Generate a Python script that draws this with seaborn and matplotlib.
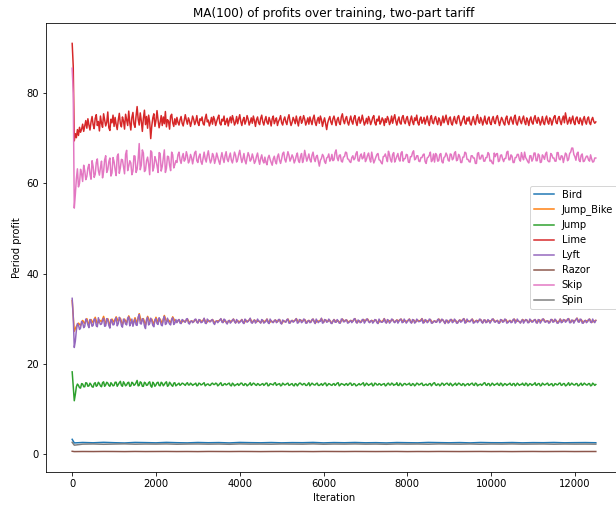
import numpy as np
import matplotlib
matplotlib.use("Agg")
import matplotlib.pyplot as plt
import seaborn as sns

# MA(100) profits.
STEP = 50
FINE = 25
FLAT_ITERS = [0, 50] + list(range(250, 12501, 250))

NAMES = ["Bird", "Jump_Bike", "Jump", "Lime", "Lyft", "Razor", "Skip", "Spin"]

# Lime and Skip: one reading every 25 iterations
lime = [
    91.0, 86.0, 69.4, 71.0, 70.1, 71.9, 70.6, 72.4, 71.3, 72.0,
    73.1, 71.5, 72.7, 73.9, 72.2, 74.3, 72.9, 71.8, 73.6, 74.8,
    73.0, 72.1, 74.4, 75.2, 72.8, 73.7, 71.6, 74.9, 73.3, 72.4,
    75.4, 74.0, 72.7, 73.5, 75.8, 72.3, 71.7, 74.2, 73.4, 75.1,
    72.6, 74.6, 73.0, 71.9, 74.0, 75.5, 73.2, 72.5, 74.7, 73.8,
    72.0, 75.3, 74.1, 72.8, 76.0, 73.4, 71.8, 74.6, 75.7, 73.1,
    72.4, 74.9, 77.0, 74.2, 72.9, 75.6, 73.8, 71.5, 74.4, 76.2,
    73.0, 74.8, 72.2, 75.1, 73.6, 69.9, 72.7, 74.5, 75.4, 72.6,
    73.9, 76.1, 74.0, 72.3, 73.5, 75.0, 72.8, 74.7, 73.2, 75.9,
    72.5, 74.1, 73.7, 72.0, 74.9, 75.3, 73.4, 72.6, 74.3, 73.0,
    74.6, 73.5, 72.9, 74.1, 74.8, 73.3, 72.7, 73.9, 75.2, 74.0,
    73.1, 74.5, 73.8, 72.6, 73.6, 74.9, 74.2, 73.0, 73.7, 75.0,
    73.4, 72.8, 74.3, 73.9, 74.7, 73.2, 72.9, 74.4, 75.3, 73.6,
    74.0, 72.7, 73.5, 74.6, 73.1, 74.8, 74.1, 72.8, 73.7, 74.5,
    75.1, 73.3, 72.9, 74.2, 73.8, 74.9, 73.0, 73.6, 74.4, 72.7,
    73.9, 74.7, 73.4, 75.0, 74.1, 72.9, 73.5, 74.8, 73.2, 74.3,
    75.2, 73.7, 72.8, 74.0, 74.6, 73.1, 73.8, 75.0, 74.2, 72.9,
    73.6, 74.5, 73.3, 74.9, 73.9, 72.6, 74.1, 74.7, 73.4, 73.0,
    74.4, 75.1, 73.6, 72.9, 74.0, 74.8, 73.5, 73.1, 74.6, 73.8,
    72.7, 74.3, 74.9, 73.2, 73.9, 74.5, 72.8, 73.7, 74.2, 75.0,
    73.4, 72.9, 74.1, 74.7, 73.6, 73.0, 74.4, 75.2, 73.8, 72.8,
    73.5, 74.6, 74.0, 73.2, 74.9, 73.7, 72.7, 74.3, 74.8, 73.3,
    73.9, 75.0, 74.2, 72.9, 73.6, 74.5, 73.1, 74.7, 73.8, 73.0,
    74.4, 75.1, 73.5, 72.8, 74.0, 74.6, 73.3, 74.9, 74.1, 72.6,
    73.7, 74.5, 73.2, 71.9, 73.4, 74.2, 74.8, 73.6, 73.0, 74.3,
    74.9, 73.8, 72.8, 74.1, 74.6, 73.4, 73.0, 74.7, 75.4, 73.9,
    73.2, 74.3, 74.8, 73.5, 72.9, 74.0, 74.9, 73.7, 73.1, 74.5,
    75.0, 73.6, 72.8, 74.2, 74.7, 73.3, 73.9, 75.1, 74.0, 72.9,
    73.5, 74.4, 73.2, 74.8, 74.1, 73.0, 73.7, 74.6, 75.0, 73.4,
    72.9, 74.2, 73.8, 74.9, 73.1, 73.6, 74.5, 74.0, 72.8, 74.3,
    73.5, 74.8, 74.2, 73.0, 73.6, 74.9, 73.3, 74.4, 75.2, 73.8,
    72.9, 74.0, 74.7, 73.4, 73.1, 74.6, 75.0, 73.7, 73.2, 74.3,
    74.8, 73.5, 72.8, 74.1, 74.9, 73.6, 73.0, 74.5, 73.9, 75.1,
    73.4, 72.9, 74.2, 74.7, 73.3, 73.8, 74.6, 73.1, 74.0, 74.9,
    73.6, 72.8, 74.4, 75.0, 73.5, 73.2, 74.3, 74.8, 73.7, 73.0,
    74.5, 74.0, 72.8, 73.6, 74.9, 73.4, 74.2, 75.1, 73.8, 73.0,
    74.4, 74.7, 73.3, 72.9, 74.1, 74.8, 73.6, 73.2, 74.6, 75.0,
    73.9, 72.8, 73.5, 74.3, 74.9, 73.4, 73.1, 74.5, 73.8, 74.7,
    73.2, 72.9, 74.0, 74.8, 73.6, 73.0, 74.4, 75.2, 73.7, 73.3,
    74.6, 74.0, 72.9, 73.8, 74.9, 73.5, 73.1, 74.3, 74.7, 73.4,
    73.0, 74.2, 74.8, 73.6, 73.2, 74.5, 75.0, 73.9, 72.8, 73.7,
    74.6, 74.1, 73.3, 72.9, 74.4, 74.9, 73.5, 73.0, 74.2, 74.7,
    73.8, 73.1, 74.6, 75.1, 73.4, 72.9, 74.0, 74.8, 73.7, 73.2,
    74.3, 74.9, 73.6, 73.0, 74.5, 73.9, 72.8, 74.1, 74.7, 73.5,
    73.1, 74.4, 75.0, 73.8, 73.3, 74.6, 74.0, 72.9, 73.7, 74.8,
    73.4, 73.0, 74.3, 74.9, 73.6, 73.1, 74.5, 74.1, 72.9, 73.8,
    74.7, 75.0, 73.5, 73.2, 74.4, 74.8, 73.7, 73.0, 74.2, 74.9,
    73.4, 75.6, 74.3, 73.1, 73.8, 74.6, 73.2, 74.1, 74.9, 73.5,
    73.0, 74.4, 74.7, 73.6, 73.2, 74.5, 73.9, 72.9, 74.2, 74.8,
    73.6, 73.1, 74.3, 74.7, 73.4, 73.0, 74.1, 74.6, 73.7, 73.3,
    73.6,
]

skip = [
    85.5, 80.0, 54.5, 57.5, 61.0, 63.2, 59.2, 60.0, 63.1, 62.1,
    60.4, 64.0, 62.8, 60.8, 61.5, 63.4, 64.2, 62.0, 60.9, 65.0,
    63.7, 61.3, 62.0, 64.6, 65.4, 62.8, 61.8, 63.5, 64.9, 61.2,
    62.6, 65.2, 66.1, 62.4, 63.0, 64.8, 65.6, 61.6, 62.3, 65.7,
    64.8, 63.0, 61.7, 66.0, 66.5, 62.2, 63.4, 65.3, 65.2, 63.6,
    62.1, 66.4, 67.3, 62.8, 63.8, 65.0, 64.5, 61.9, 62.7, 66.1,
    66.0, 62.4, 63.1, 65.4, 68.8, 63.0, 64.0, 67.4, 66.7, 62.6,
    62.9, 65.0, 65.8, 64.2, 61.9, 67.2, 66.9, 62.7, 63.5, 65.9,
    65.1, 63.9, 62.4, 66.8, 66.6, 62.7, 63.7, 65.5, 67.4, 62.4,
    63.3, 66.0, 65.9, 64.0, 62.8, 66.9, 66.3, 63.4, 64.1, 65.0,
    64.6, 66.3, 66.9, 65.2, 64.4, 65.8, 66.6, 64.9, 65.3, 67.0,
    66.1, 64.5, 65.0, 66.4, 65.7, 64.3, 65.5, 66.8, 67.1, 65.0,
    64.6, 65.9, 66.5, 64.8, 64.2, 65.6, 66.9, 65.4, 64.7, 66.2,
    67.2, 65.6, 64.5, 65.1, 66.6, 66.0, 64.4, 65.3, 66.7, 65.8,
    64.9, 64.2, 65.7, 66.8, 65.5, 64.6, 66.1, 67.0, 65.3, 64.8,
    65.9, 66.7, 65.1, 64.5, 65.6, 66.9, 66.2, 64.7, 65.2, 66.4,
    67.3, 65.8, 64.6, 65.4, 66.6, 65.0, 64.3, 65.7, 66.8, 66.1,
    64.9, 65.3, 66.5, 65.6, 64.4, 64.9, 66.0, 66.7, 65.2, 64.2,
    65.5, 66.3, 65.0, 64.5, 65.8, 64.7, 64.1, 65.6, 66.2, 65.3,
    64.6, 64.0, 65.4, 66.0, 64.8, 64.3, 65.9, 66.5, 65.1, 64.4,
    65.4, 66.6, 66.9, 65.3, 64.7, 65.8, 67.0, 66.2, 64.9, 65.5,
    66.3, 65.7, 64.5, 65.1, 66.1, 66.7, 65.0, 64.6, 65.9, 66.6,
    64.6, 65.4, 67.3, 66.1, 64.9, 65.6, 66.5, 65.2, 64.7, 66.2,
    66.9, 65.5, 64.8, 65.9, 66.2, 64.9, 63.8, 65.1, 65.5, 66.4,
    66.0, 64.8, 64.4, 65.6, 65.8, 66.5, 64.9, 65.3, 66.4, 65.0,
    65.2, 66.8, 67.4, 65.6, 65.0, 66.2, 66.3, 64.9, 64.7, 65.8,
    65.9, 66.9, 66.8, 65.4, 65.3, 64.8, 64.6, 65.7, 66.1, 65.2,
    65.5, 66.6, 67.0, 65.0, 64.9, 66.1, 66.5, 65.4, 65.7, 66.8,
    64.8, 65.3, 66.2, 66.7, 65.4, 64.7, 66.9, 65.6, 64.5, 65.1,
    65.8, 66.4, 66.6, 65.2, 65.1, 64.6, 64.3, 65.9, 66.0, 66.5,
    65.6, 64.8, 67.1, 66.3, 65.2, 64.7, 66.4, 66.8, 64.7, 65.3,
    66.0, 66.6, 65.3, 64.9, 66.7, 67.0, 64.9, 65.4, 65.5, 66.4,
    66.3, 64.7, 64.6, 65.9, 65.9, 66.8, 67.2, 65.2, 65.4, 66.1,
    66.1, 64.9, 64.8, 65.7, 65.7, 66.3, 66.5, 64.8, 64.4, 65.6,
    65.8, 66.2, 66.9, 64.8, 65.1, 66.5, 64.7, 66.6, 66.3, 64.9,
    65.0, 66.4, 66.6, 64.8, 64.5, 65.7, 65.9, 66.7, 66.2, 65.1,
    64.9, 66.5, 66.4, 65.2, 65.5, 66.7, 67.0, 65.0, 65.2, 66.4,
    66.0, 64.6, 64.6, 65.8, 65.8, 66.9, 66.7, 65.3, 65.3, 64.8,
    64.7, 66.1, 66.1, 65.6, 65.6, 64.4, 64.4, 66.6, 66.8, 65.4,
    65.4, 66.2, 66.2, 64.9, 64.9, 65.7, 65.7, 66.8, 66.5, 64.9,
    65.1, 64.5, 64.3, 66.7, 65.9, 66.5, 66.6, 64.8, 65.0, 66.2,
    66.3, 65.4, 64.8, 65.5, 65.5, 66.9, 67.1, 65.2, 65.2, 66.3,
    66.0, 64.6, 64.6, 65.7, 65.7, 66.4, 66.4, 65.3, 64.9, 66.8,
    65.8, 65.2, 66.9, 65.7, 65.3, 64.8, 64.5, 66.1, 66.1, 64.9,
    65.4, 66.7, 66.7, 65.0, 65.0, 66.5, 66.2, 64.6, 64.7, 66.3,
    65.9, 65.3, 66.5, 66.9, 65.1, 64.8, 64.8, 66.6, 66.3, 65.6,
    65.6, 64.9, 64.9, 66.8, 66.8, 65.4, 65.2, 66.1, 66.0, 64.6,
    65.7, 66.7, 66.4, 65.0, 65.3, 66.6, 66.9, 67.8, 67.8, 66.4,
    65.9, 65.1, 66.6, 66.9, 65.1, 64.8, 66.2, 66.5, 64.8, 64.9,
    65.5, 66.0, 66.0, 65.2, 64.9, 66.3, 65.4, 64.7, 64.8, 65.6,
    65.6,
]

# Lyft and Jump: *_main at 0, 50, 100, ...; *_mid at 25, 75, 125, ...
lyft_main = [
    34.5, 23.6, 27.4, 28.6, 27.9, 29.1, 28.3, 29.6, 28.0, 29.4,
    28.5, 29.9, 28.2, 29.3, 28.8, 30.1, 28.4, 29.7, 27.9, 29.5,
    28.7, 30.2, 28.9, 29.8, 28.1, 29.6, 28.6, 30.4, 29.0, 28.3,
    29.9, 28.5, 30.9, 28.8, 29.7, 27.8, 30.3, 28.9, 29.5, 28.2,
    30.0, 28.7, 29.6, 28.4, 30.5, 28.9, 29.3, 28.6, 30.2, 29.0,
    29.1, 29.8, 28.9, 29.6, 29.2, 30.0, 28.8, 29.5, 29.3, 29.9,
    29.0, 29.7, 29.2, 30.1, 28.9, 29.6, 29.3, 29.8, 28.7, 29.5,
    29.4, 30.0, 29.1, 29.7, 28.8, 29.6, 29.3, 29.9, 29.0, 29.5,
    29.2, 29.8, 28.9, 29.6, 29.4, 30.1, 29.0, 29.7, 29.3, 29.5,
    29.0, 29.6, 29.2, 29.9, 28.9, 29.5, 29.1, 29.7, 29.3, 29.8,
    28.8, 29.5, 29.2, 29.9, 29.0, 29.6, 29.4, 30.0, 29.1, 29.7,
    29.3, 29.8, 29.0, 29.6, 29.2, 29.9, 28.9, 29.5, 29.4, 30.1,
    29.1, 29.7, 29.3, 29.6, 28.9, 29.8, 29.2, 29.5, 29.0, 29.9,
    29.3, 29.7, 29.1, 29.6, 29.4, 30.0, 29.0, 29.5, 29.2, 29.8,
    29.4, 29.9, 29.1, 29.6, 29.3, 29.7, 28.9, 29.5, 29.2, 30.0,
    29.0, 29.6, 29.3, 29.8, 29.1, 29.7, 29.4, 29.9, 29.2, 29.5,
    29.3, 29.9, 29.0, 29.7, 29.2, 29.6, 29.4, 30.0, 29.1, 29.6,
    29.3, 29.8, 29.0, 29.5, 29.2, 29.9, 29.4, 29.7, 28.9, 29.6,
    29.2, 29.8, 29.3, 29.6, 29.0, 29.7, 29.4, 30.0, 29.1, 29.5,
    29.3, 29.9, 29.1, 29.6, 29.4, 29.8, 29.0, 29.7, 29.2, 29.5,
    29.4, 29.9, 29.2, 29.6, 29.0, 29.7, 29.3, 29.8, 29.1, 29.6,
    29.2, 29.9, 29.3, 29.5, 29.0, 29.8, 29.4, 29.7, 29.1, 29.6,
    29.3, 29.8, 29.0, 29.7, 29.4, 29.9, 29.2, 29.5, 29.1, 29.8,
    29.3, 29.6, 29.0, 29.9, 29.2, 29.7, 29.4, 30.0, 29.1, 29.6,
    29.5, 30.1, 29.2, 29.8, 29.0, 29.6, 29.3, 29.9, 29.1, 29.4,
    29.6,
]
lyft_mid = [
    30.5, 25.0, 28.9, 27.6, 29.4, 28.0, 29.9, 28.6, 29.8, 28.3,
    29.9, 28.4, 30.2, 28.7, 29.6, 28.3, 30.0, 28.5, 29.8, 28.6,
    29.8, 28.4, 30.3, 28.5, 29.9, 28.8, 30.1, 28.4, 29.9, 29.2,
    28.6, 30.3, 28.9, 30.0, 28.4, 29.8, 28.6, 30.1, 28.5, 29.7,
    28.9, 30.2, 28.6, 29.9, 28.7, 30.1, 28.8, 29.9, 28.7, 29.8,
    29.6, 29.0, 29.8, 29.3, 29.9, 29.0, 29.4, 29.1, 29.8, 29.2,
    29.8, 29.1, 29.5, 29.0, 29.9, 29.3, 29.7, 29.0, 29.4, 29.1,
    29.7, 29.2, 29.9, 29.1, 29.5, 29.0, 29.7, 29.3, 29.8, 29.0,
    29.4, 29.1, 29.9, 29.2, 29.7, 29.1, 29.5, 29.0, 29.9, 29.3,
    29.8, 29.0, 29.4, 29.1, 29.9, 29.2, 29.6, 29.1, 29.8, 29.0,
    29.7, 29.3, 29.8, 29.0, 29.5, 29.2, 29.7, 29.0, 29.8, 29.1,
    29.9, 29.0, 29.5, 29.1, 29.8, 29.3, 29.9, 29.1, 29.4, 29.0,
    29.8, 29.2, 29.9, 29.0, 29.5, 29.2, 29.8, 29.0, 29.9, 29.3,
    29.7, 29.0, 29.4, 29.1, 29.9, 29.2, 29.7, 29.1, 29.8, 29.0,
    29.9, 29.3, 29.5, 29.0, 29.8, 29.1, 29.9, 29.2, 29.4, 29.2,
    29.8, 29.0, 29.9, 29.3, 29.5, 29.0, 29.8, 29.1, 29.9, 29.0,
    29.7, 29.2, 29.8, 29.0, 29.9, 29.3, 29.5, 29.0, 29.8, 29.1,
    29.9, 29.0, 29.4, 29.2, 29.8, 29.1, 29.9, 29.3, 29.7, 29.0,
    29.8, 29.1, 29.9, 29.0, 29.5, 29.2, 29.8, 29.0, 29.9, 29.3,
    29.7, 29.0, 29.4, 29.1, 29.9, 29.2, 29.7, 29.1, 29.8, 29.0,
    29.9, 29.3, 29.5, 29.0, 29.8, 29.2, 29.9, 29.0, 29.4, 29.1,
    29.8, 29.0, 29.9, 29.3, 29.5, 29.0, 29.8, 29.1, 29.9, 29.2,
    29.7, 29.1, 29.8, 29.0, 29.9, 29.3, 29.5, 29.0, 29.8, 29.2,
    29.9, 29.0, 29.4, 29.1, 29.8, 29.2, 29.9, 29.1, 29.7, 29.0,
    29.8, 29.3, 29.9, 29.0, 29.5, 29.1, 29.8, 29.2, 29.9, 29.1,
]

jump_main = [
    18.2, 11.8, 14.9, 15.2, 14.6, 15.5, 14.9, 15.7, 15.1, 15.4,
    14.8, 15.8, 15.2, 15.6, 14.9, 16.0, 15.3, 15.7, 15.0, 15.5,
    15.2, 15.9, 15.4, 16.1, 15.0, 15.6, 15.3, 15.9, 15.1, 15.7,
    15.4, 16.3, 15.2, 15.8, 15.0, 15.7, 15.3, 16.0, 14.8, 15.6,
    15.3, 15.9, 15.1, 15.7, 15.4, 16.0, 15.2, 15.6, 15.0, 15.8,
    15.3, 15.7, 15.4, 15.6, 15.2, 15.8, 15.3, 15.5, 15.4, 15.7,
    15.2, 15.6, 15.4, 15.8, 15.3, 15.5, 15.2, 15.7, 15.4, 15.6,
    15.3, 15.8, 15.2, 15.6, 15.4, 15.7, 15.1, 15.5, 15.3, 15.6,
    15.4, 15.7, 15.2, 15.5, 15.3, 15.8, 15.4, 15.6, 15.2, 15.5,
    15.3, 15.6, 15.4, 15.7, 15.2, 15.5, 15.3, 15.8, 15.4, 15.6,
    15.2, 15.5, 15.4, 15.7, 15.3, 15.6, 15.1, 15.5, 15.4, 15.7,
    15.3, 15.6, 15.2, 15.8, 15.4, 15.5, 15.3, 15.7, 15.2, 15.6,
    15.4, 15.7, 15.3, 15.5, 15.2, 15.6, 15.4, 15.8, 15.3, 15.5,
    15.2, 15.6, 15.4, 15.7, 15.3, 15.5, 15.2, 15.6, 15.4, 15.8,
    15.3, 15.5, 15.4, 15.7, 15.2, 15.6, 15.3, 15.5, 15.4, 15.6,
    15.2, 15.7, 15.3, 15.6, 15.4, 15.8, 15.2, 15.5, 15.3, 15.6,
    15.4, 15.7, 15.2, 15.5, 15.3, 15.6, 15.4, 15.7, 15.2, 15.5,
    15.3, 15.6, 15.4, 15.8, 15.2, 15.5, 15.3, 15.6, 15.4, 15.7,
    15.2, 15.5, 15.3, 15.7, 15.4, 15.6, 15.2, 15.5, 15.3, 15.6,
    15.4, 15.7, 15.2, 15.6, 15.3, 15.5, 15.4, 15.8, 15.2, 15.6,
    15.3, 15.5, 15.4, 15.7, 15.2, 15.6, 15.3, 15.5, 15.4, 15.7,
    15.2, 15.6, 15.3, 15.5, 15.4, 15.7, 15.2, 15.6, 15.3, 15.5,
    15.4, 15.8, 15.3, 15.6, 15.2, 15.5, 15.4, 15.7, 15.3, 15.6,
    15.2, 15.5, 15.4, 15.7, 15.3, 15.6, 15.2, 15.8, 15.4, 15.5,
    15.3, 15.6, 15.2, 15.7, 15.4, 15.5, 15.3, 15.6, 15.2, 15.5,
    15.4,
]
jump_mid = [
    15.0, 13.2, 15.5, 14.7, 15.6, 14.9, 15.8, 15.0, 15.7, 14.9,
    15.6, 15.0, 15.9, 15.1, 15.8, 15.0, 15.9, 15.2, 15.8, 15.1,
    15.9, 15.0, 15.8, 15.2, 16.0, 15.1, 15.8, 15.0, 15.9, 15.2,
    15.8, 15.1, 16.0, 15.0, 15.9, 15.2, 15.8, 15.1, 15.9, 15.0,
    15.8, 15.2, 15.9, 15.1, 15.8, 15.0, 15.9, 15.2, 15.7, 15.1,
    15.5, 15.2, 15.7, 15.4, 15.6, 15.3, 15.7, 15.2, 15.5, 15.1,
    15.7, 15.3, 15.6, 15.1, 15.5, 15.2, 15.6, 15.4, 15.7, 15.1,
    15.6, 15.2, 15.5, 15.3, 15.6, 15.2, 15.7, 15.1, 15.4, 15.2,
    15.7, 15.3, 15.6, 15.1, 15.5, 15.2, 15.7, 15.3, 15.6, 15.2,
    15.5, 15.2, 15.7, 15.1, 15.6, 15.4, 15.7, 15.2, 15.5, 15.1,
    15.7, 15.3, 15.6, 15.2, 15.5, 15.2, 15.6, 15.1, 15.7, 15.4,
    15.6, 15.2, 15.5, 15.1, 15.7, 15.3, 15.6, 15.2, 15.4, 15.2,
    15.7, 15.1, 15.6, 15.3, 15.5, 15.2, 15.7, 15.1, 15.6, 15.4,
    15.5, 15.2, 15.7, 15.2, 15.6, 15.1, 15.4, 15.3, 15.6, 15.1,
    15.7, 15.2, 15.5, 15.1, 15.7, 15.3, 15.6, 15.2, 15.5, 15.1,
    15.6, 15.3, 15.7, 15.2, 15.4, 15.2, 15.7, 15.1, 15.6, 15.3,
    15.5, 15.2, 15.6, 15.1, 15.7, 15.3, 15.6, 15.2, 15.4, 15.2,
    15.6, 15.1, 15.7, 15.3, 15.5, 15.1, 15.7, 15.2, 15.6, 15.4,
    15.7, 15.1, 15.5, 15.2, 15.7, 15.3, 15.6, 15.1, 15.5, 15.2,
    15.6, 15.3, 15.7, 15.1, 15.4, 15.2, 15.7, 15.3, 15.6, 15.1,
    15.7, 15.2, 15.5, 15.3, 15.7, 15.1, 15.6, 15.2, 15.5, 15.3,
    15.6, 15.1, 15.7, 15.2, 15.4, 15.3, 15.7, 15.1, 15.6, 15.2,
    15.5, 15.2, 15.6, 15.1, 15.7, 15.3, 15.6, 15.2, 15.5, 15.1,
    15.6, 15.3, 15.7, 15.2, 15.6, 15.1, 15.5, 15.2, 15.7, 15.3,
    15.6, 15.1, 15.5, 15.2, 15.7, 15.3, 15.6, 15.1, 15.7, 15.2,
]

# every 50 iterations, mostly hidden under Lyft
jump_bike = [
    34.0, 27.2, 28.3, 29.0, 28.5, 29.6, 28.9, 30.0, 28.6, 29.8,
    29.1, 30.3, 28.8, 29.7, 29.3, 30.5, 28.9, 30.0, 28.6, 29.9,
    29.2, 30.4, 29.4, 30.1, 28.7, 29.9, 29.1, 30.6, 29.5, 28.9,
    30.2, 29.0, 31.1, 29.3, 30.0, 28.6, 30.5, 29.4, 29.9, 28.8,
    30.3, 29.2, 29.9, 28.9, 30.7, 29.4, 29.7, 29.1, 30.4, 29.5,
    29.2, 29.8, 29.0, 29.6, 29.3, 29.9, 29.1, 29.5, 29.3, 29.8,
    29.1, 29.7, 29.3, 30.0, 29.0, 29.6, 29.4, 29.8, 29.1, 29.5,
    29.5, 29.9, 29.2, 29.6, 29.0, 29.6, 29.3, 29.9, 29.1, 29.5,
    29.3, 29.8, 29.0, 29.6, 29.4, 30.0, 29.1, 29.7, 29.3, 29.5,
    29.1, 29.6, 29.3, 29.9, 29.0, 29.5, 29.2, 29.7, 29.3, 29.8,
    28.9, 29.5, 29.3, 29.9, 29.1, 29.6, 29.4, 30.0, 29.2, 29.7,
    29.4, 29.8, 29.1, 29.6, 29.3, 29.9, 29.0, 29.5, 29.4, 30.0,
    29.2, 29.7, 29.4, 29.6, 29.0, 29.8, 29.3, 29.5, 29.1, 29.9,
    29.4, 29.7, 29.2, 29.6, 29.4, 30.0, 29.1, 29.5, 29.3, 29.8,
    29.5, 29.9, 29.2, 29.6, 29.4, 29.7, 29.0, 29.5, 29.3, 30.0,
    29.1, 29.6, 29.4, 29.8, 29.2, 29.7, 29.5, 29.9, 29.3, 29.5,
    29.4, 29.9, 29.1, 29.7, 29.3, 29.6, 29.5, 30.0, 29.2, 29.6,
    29.4, 29.8, 29.1, 29.5, 29.3, 29.9, 29.5, 29.7, 29.0, 29.6,
    29.3, 29.8, 29.4, 29.6, 29.1, 29.7, 29.5, 30.0, 29.2, 29.5,
    29.4, 29.9, 29.2, 29.6, 29.5, 29.8, 29.1, 29.7, 29.3, 29.5,
    29.5, 29.9, 29.3, 29.6, 29.1, 29.7, 29.4, 29.8, 29.2, 29.6,
    29.3, 29.9, 29.4, 29.5, 29.1, 29.8, 29.5, 29.7, 29.2, 29.6,
    29.4, 29.8, 29.1, 29.7, 29.5, 29.9, 29.3, 29.5, 29.2, 29.8,
    29.4, 29.6, 29.1, 29.9, 29.3, 29.7, 29.5, 30.0, 29.2, 29.6,
    29.5, 30.1, 29.3, 29.8, 29.1, 29.6, 29.4, 29.9, 29.2, 29.4,
    29.6,
]

bird = [
    3.25, 2.45, 2.55, 2.48, 2.58, 2.50, 2.44, 2.56, 2.52, 2.47,
    2.57, 2.50, 2.46, 2.55, 2.49, 2.53, 2.45, 2.56, 2.51, 2.48,
    2.54, 2.47, 2.52, 2.50, 2.56, 2.46, 2.53, 2.49, 2.55, 2.48,
    2.51, 2.45, 2.54, 2.50, 2.47, 2.56, 2.52, 2.48, 2.53, 2.46,
    2.55, 2.50, 2.49, 2.54, 2.47, 2.52, 2.50, 2.55, 2.48, 2.51,
    2.53, 2.49,
]

spin = [
    2.60, 1.95, 2.18, 2.22, 2.15, 2.20, 2.24, 2.17, 2.21, 2.19,
    2.23, 2.16, 2.20, 2.22, 2.18, 2.21, 2.15, 2.23, 2.19, 2.20,
    2.17, 2.22, 2.20, 2.18, 2.24, 2.16, 2.21, 2.19, 2.23, 2.18,
    2.20, 2.15, 2.22, 2.19, 2.21, 2.17, 2.23, 2.20, 2.18, 2.22,
    2.16, 2.21, 2.19, 2.23, 2.18, 2.20, 2.22, 2.17, 2.21, 2.19,
    2.20, 2.18,
]

razor = [
    0.60, 0.53, 0.55, 0.54, 0.56, 0.55, 0.53, 0.56, 0.54, 0.55,
    0.56, 0.54, 0.55, 0.53, 0.56, 0.55, 0.54, 0.56, 0.55, 0.53,
    0.55, 0.56, 0.54, 0.55, 0.53, 0.56, 0.55, 0.54, 0.56, 0.55,
    0.54, 0.55, 0.56, 0.53, 0.55, 0.54, 0.56, 0.55, 0.54, 0.55,
    0.56, 0.54, 0.55, 0.53, 0.55, 0.56, 0.54, 0.55, 0.56, 0.54,
    0.55, 0.55,
]


def interleave(main, mid):
    """Merge the 50-step and offset-25 readings into one 25-step trace."""
    n = min(len(main) - 1, len(mid))
    full = np.empty(2 * n + 1)
    full[0::2] = main[:n + 1]
    full[1::2] = mid[:n]
    return np.arange(len(full)) * FINE, full


series = {
    "Bird": (FLAT_ITERS, bird),
    "Jump_Bike": (np.arange(len(jump_bike)) * STEP, jump_bike),
    "Jump": interleave(jump_main, jump_mid),
    "Lime": (np.arange(len(lime)) * FINE, lime),
    "Lyft": interleave(lyft_main, lyft_mid),
    "Razor": (FLAT_ITERS, razor),
    "Skip": (np.arange(len(skip)) * FINE, skip),
    "Spin": (FLAT_ITERS, spin),
}

fig = plt.figure(figsize=(616 / 72, 508 / 72), dpi=72)
# original figure was cropped on the right, so the axes run past the edge
ax = fig.add_axes([46 / 616, 36 / 508, 576 / 616, 449 / 508])
palette = sns.color_palette("tab10", len(NAMES))
for name, color in zip(NAMES, palette):
    x, y = series[name]
    sns.lineplot(x=x, y=y, ax=ax, color=color, label=name,
                 estimator=None, sort=False, linewidth=1.5)

ax.set_title("MA(100) of profits over training, two-part tariff")
ax.set_xlabel("Iteration")
ax.set_ylabel("Period profit")
ax.legend(loc="center right")
fig.savefig("out.png", dpi=72)
plt.close(fig)
